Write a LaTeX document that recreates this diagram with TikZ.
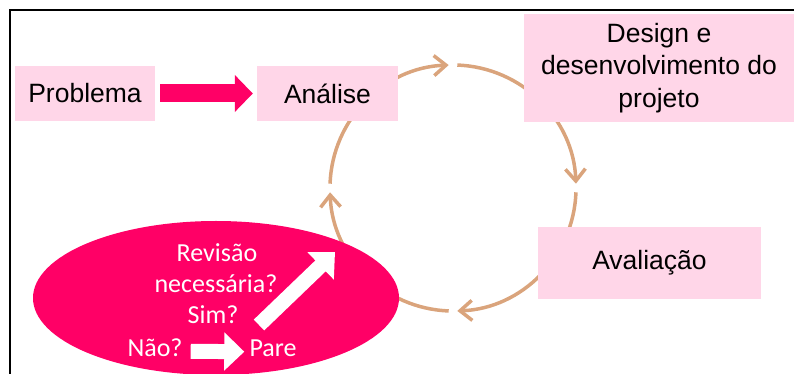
\documentclass[tikz,border=0pt]{standalone}
\usepackage{fontspec}
\setmainfont{Liberation Sans}
\newfontfamily\calibri{Carlito}
\usetikzlibrary{arrows.meta}
\definecolor{boxpink}{RGB}{255,214,232}
\definecolor{hotpink}{RGB}{255,0,102}
\definecolor{looptan}{RGB}{218,164,124}

\begin{document}
\begin{tikzpicture}[x=1pt, y=1pt,
	box/.style={fill=boxpink, inner sep=0pt, align=center, font=\fontsize{26.5}{32.5}\selectfont},
	wtxt/.style={text=white, inner sep=0pt, anchor=base, font=\calibri\fontsize{26}{32}\selectfont}]
	\tikzset{loop arc/.style={draw=looptan, line width=3.5pt, -{Straight Barb[length=12pt,width=20pt]}},
		parrow/.style={draw=hotpink, line width=18pt, -{Triangle[length=18pt,width=36pt]}},
		warrow/.style={draw=white, line width=15pt, -{Triangle[length=20pt,width=37pt]}}}
	\useasboundingbox (0,0) rectangle (794,374);
	\draw[line width=2pt] (10,0) -- (10,364) -- (794,364);
	\coordinate (cen) at (453,186);
	\foreach \a in {90,0,-90,-180}
	\draw[loop arc] ([shift={(\a+88:123)}]cen) arc[start angle=\a+88, end angle=\a+2, radius=123];
	\node[box, minimum width=140pt, minimum height=55pt] (prob) at (85,280.5) {Problema};
	\node[box, minimum width=141pt, minimum height=55pt] (anal) at (327.5,280.5) {Análise};
	\node[box, minimum width=270pt, minimum height=108pt] (design) at (659,306) {Design e\\desenvolvimento do\\projeto};
	\node[box, minimum width=223pt, minimum height=72pt] (aval) at (649.5,111) {Avaliação};
	\draw[parrow, shorten <=5pt, shorten >=4pt] (prob) -- (anal);
	\fill[hotpink] (216,76) ellipse[x radius=183, y radius=77];
	\node[wtxt] (rev) at (217,112) {Revisão};
	\node[wtxt] (nec) at (216,81) {necessária?};
	\node[wtxt] (sim) at (213,50) {Sim?};
	\node[wtxt] (nao) at (155,17) {Não?};
	\node[wtxt] (pare) at (273,17) {Pare};
	\coordinate (go0) at (259,49);
	\coordinate (go1) at (335,122);
	\draw[warrow] (go0) -- (go1);
	\draw[warrow, shorten <=8pt, shorten >=5pt] ([yshift=-3pt]nao.east) -- ([yshift=-3pt]pare.west);
\end{tikzpicture}
\end{document}
